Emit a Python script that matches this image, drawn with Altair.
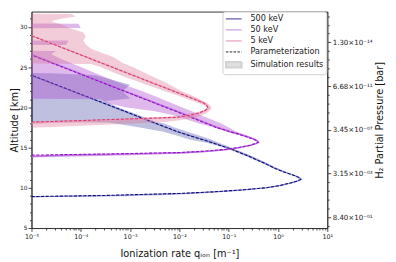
import json
import altair as alt
import pandas as pd

# ---------------- data (altitude [km], log10 of ionization rate q_ion [m^-1]) ----------------
# Parameterization (dashed lines)
param_alt_500 = [8.5, 8.91, 9.05, 9.19, 9.3, 9.5, 9.75, 10.0, 10.3, 10.6, 10.85, 11.05, 11.3, 11.6, 11.9,
                 12.4, 12.98, 13.8, 14.77, 15.7, 16.6, 17.03, 18.3, 19.26, 21.63, 24.0, 25.0]
param_lq_500 = [-7, -5, -3.5, -2.66, -2.0, -1.3, -0.7, -0.25, 0.05, 0.25, 0.4, 0.46, 0.42, 0.3, 0.15,
                -0.06, -0.25, -0.55, -0.93, -1.38, -1.86, -2.06, -2.6, -3.0, -4.0, -5.0, -5.42]

param_alt_50 = [13.6, 14.06, 14.2, 14.3, 14.37, 14.55, 14.77, 15.0, 15.3, 15.5, 15.65, 15.85, 16.1, 16.4,
                16.7, 17.0, 17.5, 18.1, 19.0, 19.33, 21.72, 24.11, 26.5, 27.5]
param_lq_50 = [-7, -5, -3.5, -2.66, -2.06, -1.5, -1.07, -0.8, -0.57, -0.45, -0.40, -0.43, -0.52, -0.67,
               -0.82, -1.0, -1.25, -1.5, -1.86, -2.0, -3.0, -4.0, -5.0, -5.42]

param_alt_5 = [17.5, 18.16, 18.4, 18.76, 19.0, 19.3, 19.6, 19.9, 20.2, 20.55, 21.0, 21.35, 21.87, 23.3,
               24.12, 26.51, 28.9, 29.9]
param_lq_5 = [-7, -5, -3.8, -2.06, -1.8, -1.6, -1.48, -1.42, -1.44, -1.51, -1.69, -1.84, -2.06, -2.66,
              -3.0, -4.0, -5.0, -5.42]

# Simulation mean (solid lines), same altitudes as the parameterization
sim_lq_500 = [-6.7, -4.75, -3.35, -2.55, -1.95, -1.27, -0.68, -0.24, 0.06, 0.26, 0.41, 0.47, 0.43, 0.31, 0.16,
              -0.05, -0.24, -0.53, -0.92, -1.36, -1.83, -2.08, -2.62, -3.02, -4.02, -5.02, -5.45]
sim_lq_50 = [-6.2, -4.3, -3.0, -2.4, -1.9, -1.42, -1.03, -0.78, -0.56, -0.44, -0.40, -0.42, -0.5, -0.64,
             -0.79, -0.97, -1.22, -1.47, -1.83, -1.97, -2.98, -3.98, -4.98, -5.4]
sim_lq_5 = [-6.5, -4.6, -3.5, -1.98, -1.76, -1.58, -1.47, -1.41, -1.43, -1.5, -1.68, -1.83, -2.05, -2.65,
            -2.99, -3.99, -4.99, -5.4]

# Simulation results spread (shaded bands): altitude, log10 min, log10 max
band_alt_500 = [8.6, 8.8, 8.95, 9.1, 9.3, 9.6, 10.0, 10.5, 11.05, 11.5, 12.0, 13.0, 14.0, 15.0, 15.6, 16.0,
                16.5, 17.0, 17.5, 18.0, 18.12, 18.16, 19.0, 20.0, 20.8, 21.1, 22.0, 22.8, 23.4, 24.0, 24.25, 24.4]
band_lo_500 = [-7, -7, -4.8, -3.2, -2.05, -1.15, -0.28, 0.17, 0.44, 0.32, 0.08, -0.3, -0.68, -1.1, -1.45, -1.8,
               -2.05, -2.35, -2.8, -3.3, -3.45, -7, -7, -7, -7, -7, -7, -7, -7, -7, -7, -7]
band_hi_500 = [-7, -5.3, -3.1, -2.2, -1.55, -0.8, -0.15, 0.25, 0.5, 0.38, 0.15, -0.2, -0.55, -0.95, -1.2, -1.35,
               -1.6, -1.85, -2.1, -2.3, -2.4, -2.45, -2.8, -3.25, -3.5, -3.0, -3.15, -3.0, -3.35, -3.7, -4.6, -7]

band_alt_50 = [13.6, 13.7, 13.9, 14.05, 14.2, 14.35, 14.6, 14.9, 15.2, 15.65, 16.0, 16.4, 17.0, 17.5, 18.0,
               18.5, 19.0, 19.5, 20.0, 20.5, 21.0, 21.15, 22.0, 23.0, 24.0, 25.0, 26.0, 26.6, 27.0, 27.2,
               27.7, 27.75, 28.3, 28.35, 29.8, 29.85, 30.4, 30.45]
band_lo_50 = [-7, -7, -6, -5.0, -3.4, -2.1, -1.35, -0.9, -0.62, -0.42, -0.5, -0.72, -1.05, -1.3, -1.6,
              -1.85, -2.1, -2.5, -3.1, -3.45, -3.6, -7, -7, -7, -7, -7, -7, -7, -7, -7,
              -7, -7, -7, -7, -7, -7, -7, -7]
band_hi_50 = [-7, -5.4, -4.0, -2.9, -2.2, -1.6, -1.15, -0.78, -0.55, -0.37, -0.44, -0.6, -0.85, -1.0, -1.15,
              -1.35, -1.55, -1.75, -1.95, -2.15, -2.35, -2.4, -2.75, -3.2, -3.6, -4.0, -4.4, -4.6, -4.5, -7,
              -7, -4.3, -4.25, -7, -7, -4.0, -4.05, -7]

band_alt_5 = [17.3, 17.45, 17.8, 18.1, 18.2, 18.4, 18.6, 18.8, 19.0, 19.3, 19.6, 19.9, 20.2, 20.5, 21.0,
              21.5, 22.0, 23.0, 24.0, 25.0, 25.4, 25.5, 26.3, 26.8, 27.3, 27.8, 28.3, 28.8, 29.3, 29.8,
              30.3, 30.7, 31.0, 31.3, 31.6, 31.7]
band_lo_5 = [-7, -7, -7, -7, -5.2, -4.0, -3.0, -2.3, -2.0, -1.72, -1.52, -1.45, -1.48, -1.6, -1.82,
             -2.05, -2.3, -2.75, -3.2, -3.6, -3.8, -7, -7, -7, -7, -7, -7, -7, -7, -7,
             -7, -7, -7, -7, -7, -7]
band_hi_5 = [-7, -5.0, -3.6, -2.6, -2.25, -2.0, -1.8, -1.65, -1.55, -1.45, -1.38, -1.35, -1.37, -1.43, -1.58,
             -1.75, -1.95, -2.25, -2.6, -2.95, -3.1, -3.15, -3.35, -3.6, -3.8, -3.9, -3.95, -3.9, -3.95, -4.2,
             -4.4, -4.6, -4.4, -4.1, -4.2, -7]

# Axis ticks
x_major = [1e-5, 1e-4, 1e-3, 1e-2, 1e-1, 1e0, 1e1]
x_tick_labels = ["10⁻⁵", "10⁻⁴", "10⁻³", "10⁻²", "10⁻¹", "10⁰", "10¹"]
y_major = [5, 10, 15, 20, 25, 30]
p_tick_alt = [6.32, 11.76, 17.2, 22.64, 28.08]
p_tick_labels = ["8.40×10⁻⁰¹", "3.15×10⁻⁰³", "3.45×10⁻⁰⁷", "6.68×10⁻¹¹", "1.30×10⁻¹⁴"]

legend_labels = ["500 keV", "50 keV", "5 keV", "Parameterization", "Simulation results"]

# ---------------- styling ----------------
FONT = "DejaVu Sans"
X_SCALE = alt.Scale(type="log", domain=[1e-5, 10], nice=False)
Y_SCALE = alt.Scale(domain=[5, 31.9], nice=False, zero=False)

band_colors = {"500": ("#000080", 0.25), "50": ("#b050d0", 0.40), "5": ("#db7093", 0.35)}
sim_colors = {"500": ("#7878c4", 1.1), "50": ("#bb66dd", 1.6), "5": ("#eb9cbd", 1.6)}
param_colors = {"500": "#0c0c7a", "50": "#9010c8", "5": "#d83a6e"}
legend_colors = ["#1c1c8c", "#c07ad8", "#eaa2c0", "#555555", "#bfbfbf"]
legend_widths = [1.2, 2.0, 2.0, 1.3, 1.0]
line_path = "M-1,0H3"
rect_path = "M-1,-0.7H3V0.7H-1Z"
legend_shapes = [line_path, line_path, line_path, line_path, rect_path]
legend_dashes = [[1, 0], [1, 0], [1, 0], [2.6, 1.3], [1, 0]]


def prof(alts, lqs):
    return pd.DataFrame({"alt": alts, "q": [10.0 ** v for v in lqs]})


def band(alts, lo, hi):
    return pd.DataFrame({"alt": alts, "lo": [10.0 ** v for v in lo], "hi": [10.0 ** v for v in hi]})


# tick values
x_minor = [m * 10.0 ** k for k in range(-5, 1) for m in range(2, 10)]
x_values = x_major + x_minor
y_values = list(range(5, 32))
p_step = (p_tick_alt[1] - p_tick_alt[0]) / 5
p_minor = [p_tick_alt[0] - p_step]
for a, b in zip(p_tick_alt[:-1], p_tick_alt[1:]):
    p_minor += [a + (b - a) * j / 5 for j in range(1, 5)]
p_minor += [p_tick_alt[-1] + p_step * j for j in range(1, 4)]
p_values = p_tick_alt + p_minor

xmaj_js = json.dumps(x_major)
xlab_js = json.dumps(x_tick_labels, ensure_ascii=False)
pmaj_js = json.dumps(p_tick_alt)
plab_js = json.dumps(p_tick_labels, ensure_ascii=False)
ymaj_js = json.dumps(y_major)

x_axis = alt.Axis(
    values=x_values,
    labelExpr=f"indexof({xmaj_js}, datum.value) >= 0 ? {xlab_js}[indexof({xmaj_js}, datum.value)] : ''",
    tickSize={"condition": {"test": f"indexof({xmaj_js}, datum.value) >= 0", "value": 3.5}, "value": 2},
    labelFontSize=6.5, labelPadding=2.5, labelFlush=False, labelOverlap=False,
    title="Ionization rate qᵢₒₙ [m⁻¹]", titleFontSize=10, titlePadding=9, orient="bottom",
)
y_axis = alt.Axis(
    values=y_values,
    labelExpr=f"indexof({ymaj_js}, datum.value) >= 0 ? datum.label : ''",
    tickSize={"condition": {"test": f"indexof({ymaj_js}, datum.value) >= 0", "value": 3.5}, "value": 2},
    labelFontSize=6, labelPadding=1, labelFlush=False, labelOverlap=False,
    title="Altitude [km]", titleFontSize=10, titlePadding=0.5, orient="left",
)
p_axis = alt.Axis(
    values=p_values, orient="right",
    labelExpr=f"indexof({pmaj_js}, datum.value) >= 0 ? {plab_js}[indexof({pmaj_js}, datum.value)] : ''",
    tickSize={"condition": {"test": f"indexof({pmaj_js}, datum.value) >= 0", "value": 3.5}, "value": 2},
    labelFontSize=7.2, labelPadding=1.5, labelFlush=False, labelOverlap=False,
    title="H₂ Partial Pressure [bar]", titleFontSize=10, titlePadding=3,
    titleAngle=270, titleBaseline="top",
)

XENC = dict(scale=X_SCALE, axis=x_axis)
YENC = dict(scale=Y_SCALE, axis=y_axis)


def band_layer(df, key):
    color, op = band_colors[key]
    return alt.Chart(df).mark_area(orient="horizontal", color=color, opacity=op, clip=True).encode(
        x=alt.X("lo:Q", **XENC),
        x2="hi:Q",
        y=alt.Y("alt:Q", **YENC),
    )


def line_layer(df, color, width, dash=None, opacity=1.0):
    kw = dict(color=color, strokeWidth=width, clip=True, opacity=opacity)
    if dash:
        kw["strokeDash"] = dash
    return alt.Chart(df).mark_line(**kw).encode(
        x=alt.X("q:Q", **XENC),
        y=alt.Y("alt:Q", **YENC),
        order=alt.Order("alt:Q"),
    )


layers = []
groups = [
    ("500", param_alt_500, param_lq_500, sim_lq_500, band_alt_500, band_lo_500, band_hi_500),
    ("50", param_alt_50, param_lq_50, sim_lq_50, band_alt_50, band_lo_50, band_hi_50),
    ("5", param_alt_5, param_lq_5, sim_lq_5, band_alt_5, band_lo_5, band_hi_5),
]
for key, pa, pl, sl, ba, blo, bhi in groups:
    layers.append(band_layer(band(ba, blo, bhi), key))
    scol, sw = sim_colors[key]
    layers.append(line_layer(prof(pa, sl), scol, sw, opacity=0.85))
    layers.append(line_layer(prof(pa, pl), param_colors[key], 1.1, dash=[3.2, 1.6]))

# legend (built from explicit scale domains)
leg = alt.Legend(
    title=None, orient="none", legendX=195, legendY=0,
    padding=2.5, labelOffset=16, symbolSize=64, rowPadding=2.2,
    labelFontSize=8.3, labelFont=FONT, labelColor="#222222",
    strokeColor="#cfcfcf", fillColor="#ffffff", cornerRadius=2.5,
)
legend_df = pd.DataFrame({"cat": legend_labels, "q": [None] * 5, "alt": [None] * 5})
legend_layer = alt.Chart(legend_df).mark_point(filled=True, size=64, clip=True).encode(
    x=alt.X("q:Q", **XENC),
    y=alt.Y("alt:Q", **YENC),
    fill=alt.Fill("cat:N", scale=alt.Scale(domain=legend_labels, range=legend_colors), legend=leg),
    stroke=alt.Stroke("cat:N", scale=alt.Scale(domain=legend_labels, range=legend_colors), legend=leg),
    shape=alt.Shape("cat:N", scale=alt.Scale(domain=legend_labels, range=legend_shapes), legend=leg),
    strokeDash=alt.StrokeDash("cat:N", scale=alt.Scale(domain=legend_labels, range=legend_dashes), legend=leg),
    strokeWidth=alt.StrokeWidth("cat:N", scale=alt.Scale(domain=legend_labels, range=legend_widths), legend=leg),
)
layers.append(legend_layer)

inner = alt.layer(*layers)

right_df = pd.DataFrame({"alt": p_tick_alt})
right = alt.Chart(right_df).mark_point(opacity=0).encode(
    y=alt.Y("alt:Q", scale=Y_SCALE, axis=p_axis),
)

chart = (
    alt.layer(inner, right)
    .resolve_scale(y="independent")
    .properties(
        width=302, height=221,
        autosize=alt.AutoSizeParams(type="none"),
        padding={"left": 24, "top": 1, "right": 62, "bottom": 31},
        background="white",
    )
    .configure_view(stroke="#333333", strokeWidth=1)
    .configure_axis(
        domainColor="#333333", tickColor="#333333", labelColor="#222222", titleColor="#111111",
        labelFont=FONT, titleFont=FONT, titleFontWeight="normal", grid=False,
        domainWidth=0.9, tickWidth=0.9,
    )
)

chart.save("out.html", embed_options={"renderer": "svg", "actions": False})
